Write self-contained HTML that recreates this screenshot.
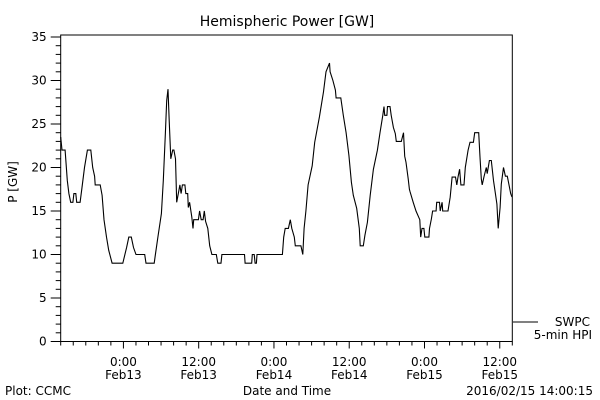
<!DOCTYPE html>
<html><head><meta charset="utf-8"><style>
html,body{margin:0;padding:0;background:#fff;}
svg{display:block;font-family:"DejaVu Sans","Liberation Sans",sans-serif;}
text{fill:#000;font-size:12px;}
</style></head><body>
<svg id="chart" width="600" height="400" viewBox="0 0 600 400" xmlns="http://www.w3.org/2000/svg">
<rect width="600" height="400" fill="#fff"/>
<text x="287" y="26" text-anchor="middle" style="font-size:14px">Hemispheric Power [GW]</text>
<text transform="translate(17,182) rotate(-90)" text-anchor="middle">P [GW]</text>
<text x="287" y="395" text-anchor="middle">Date and Time</text>
<text x="5" y="395">Plot: CCMC</text>
<text x="593" y="395" text-anchor="end">2016/02/15 14:00:15</text>
<g id="axes"></g>
<g id="series"></g>
<line x1="513" y1="322" x2="538" y2="322" stroke="#000"/>
<text x="590" y="326" text-anchor="end">SWPC</text>
<text x="592" y="339" text-anchor="end">5-min HPI</text>
</svg>
<script>
// hours since 2016-02-12 14:00
const times = [0,0.2,0.7,1.05,1.3,1.6,1.95,2.1,2.4,2.55,3.1,3.4,3.8,4.25,4.8,5.1,5.4,5.5,6.3,6.6,6.9,7.3,7.65,8.2,9.9,10.5,10.85,11.25,11.6,12.0,13.4,13.6,14.9,15.1,15.5,16.05,16.35,16.7,16.9,17.1,17.3,17.55,17.85,18.05,18.3,18.5,18.75,19.0,19.2,19.4,19.8,19.95,20.25,20.35,20.55,20.9,21.1,21.2,21.95,22.15,22.4,22.7,22.9,23.1,23.45,23.75,24.1,24.8,25.05,25.55,25.7,29.3,29.4,30.45,30.55,30.85,31.0,31.2,31.3,35.35,35.55,35.8,36.3,36.6,36.85,37.25,37.4,38.3,38.6,38.8,39.1,39.45,40.1,40.5,41.25,41.9,42.3,42.85,42.95,43.4,43.8,43.9,44.65,45.05,45.5,45.95,46.35,46.65,47.2,47.6,47.75,48.25,48.5,48.9,49.35,49.85,50.5,50.9,51.35,51.55,51.65,52.0,52.1,52.5,52.7,53.05,53.35,53.5,54.3,54.65,54.85,55.05,55.4,55.6,55.7,56.2,56.65,57.25,57.4,57.6,57.9,58.05,58.7,58.8,59.1,59.3,59.85,59.95,60.4,60.5,60.8,60.9,61.75,62.1,62.4,62.95,63.15,63.35,63.6,63.8,64.3,64.5,64.95,65.25,65.8,66.0,66.65,66.85,67.05,67.2,67.5,67.85,68.0,68.35,68.65,69.0,69.3,69.55,69.75,70.05,70.25,70.6,70.9,71.2,71.75,71.95];
const values = [23.5,22,22,18.5,17,16,16,17,17,16,16,17.7,20,22,22,20,19,18,18,16.8,14,12,10.5,9,9,10.8,12,12,10.8,10,10,9,9,10,12,14.7,18.5,24,27.7,29,25.4,21,22,22,21,16,17,18,17,18,18,17,17,15.4,16,14.3,13,14,14,15,14,14,15,13.8,13,11,10,10,9,9,10,10,9,9,10,10,9,9,10,10,12,13,13,14,13,12,11,11,10,13,15,18,20.2,22.9,25.8,28.7,31,32,31,30,28.9,28,28,26,24,21.4,18.3,16.8,15.3,13,11,11,12.2,13.7,16.8,19.8,22,24,26,27,26,26,27,27,26,24.6,23.9,23,23,24,21.3,20.6,18.7,17.5,17.2,16,15,14,12,13,13,12,12,13,14.1,15,15,16,16,15,16,15,15,16.6,18.9,18.9,18,18.9,19.8,18,18,20,22,22.9,22.9,24,24,21.2,18.7,18,19,20,19.3,20.8,20.8,18.5,17,15.8,13,15.4,18.1,20,19,19,17,16.6];
const yTicks = [0,5,10,15,20,25,30,35];
const xTickHours = [10,22,34,46,58,70];
const xTickTimes = ["0:00","12:00","0:00","12:00","0:00","12:00"];
const xTickDates = ["Feb13","Feb13","Feb14","Feb14","Feb15","Feb15"];

const NS="http://www.w3.org/2000/svg";
const L=60.7,R=512.3,T=35,B=341.5,H0=0,H1=72,V0=0,PXV=8.7;
function xs(h){return L+(h-H0)*(R-L)/(H1-H0);}
function ys(v){return B-(v-V0)*PXV;}
function mk(tag,attrs,parent){const e=document.createElementNS(NS,tag);for(const k in attrs)e.setAttribute(k,attrs[k]);parent.appendChild(e);return e;}
const ax=document.getElementById('axes');
const frame=mk('rect',{x:L,y:T,width:R-L,height:B-T,fill:'none',stroke:'#000','stroke-width':1},ax);


for(let v=0;v<=35;v++){
  const y=ys(v);const len=(v%5===0)?10:5;
  const t=mk('line',{x1:L-len,y1:y,x2:L,y2:y,stroke:'#000'},ax);
  
  
}
yTicks.forEach(v=>{
  const t=mk('text',{x:L-14,y:ys(v)+4,'text-anchor':'end'},ax);t.textContent=String(v);
  
  
});
for(let h=0;h<=72;h+=2){
  const major=xTickHours.indexOf(h)>=0;
  const t=mk('line',{x1:xs(h),y1:B,x2:xs(h),y2:B+(major?7:4),stroke:'#000'},ax);
  
  
}
xTickHours.forEach((h,i)=>{
  const a=mk('text',{x:xs(h),y:366,'text-anchor':'middle'},ax);a.textContent=xTickTimes[i];
  
  
  const b=mk('text',{x:xs(h),y:379,'text-anchor':'middle'},ax);b.textContent=xTickDates[i];
  
  
});
const sg=document.getElementById('series');
const pts=times.map((h,i)=>xs(h).toFixed(1)+','+ys(values[i]).toFixed(1)).join(' ');
const pl=mk('polyline',{points:pts,fill:'none',stroke:'#000','stroke-width':1.1},sg);


</script>
</body></html>
